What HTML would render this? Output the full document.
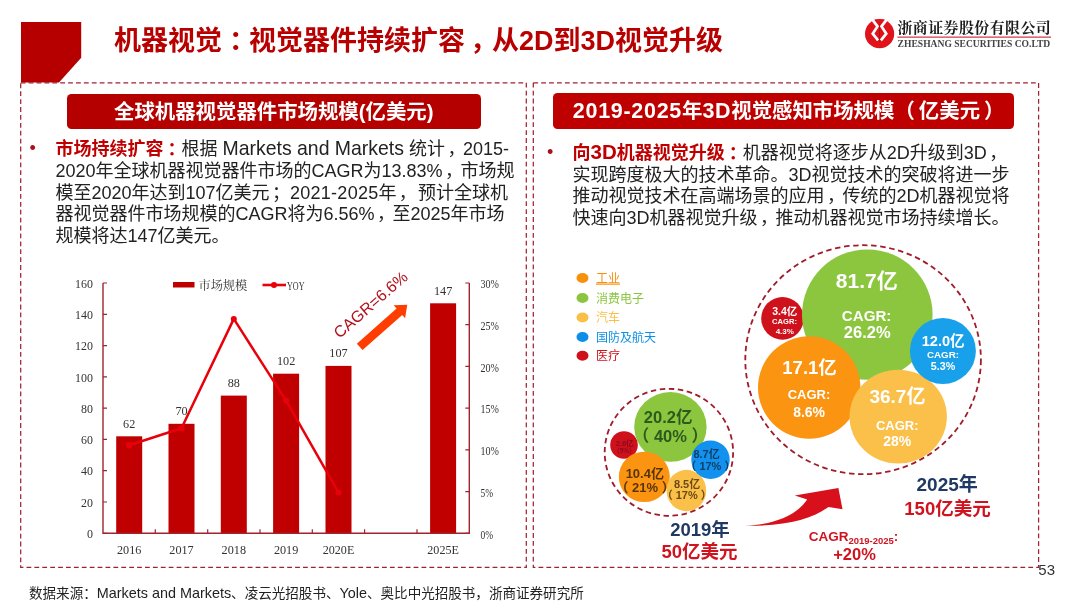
<!DOCTYPE html>
<html lang="zh-CN">
<head>
<meta charset="utf-8">
<title>机器视觉：视觉器件持续扩容，从2D到3D视觉升级</title>
<style>
*{margin:0;padding:0;box-sizing:border-box;}
html,body{width:1080px;height:608px;background:#fff;overflow:hidden;}
body{position:relative;font-family:"Liberation Sans","Noto Sans CJK SC",sans-serif;color:#222;}
.abs{position:absolute;white-space:nowrap;}
#title{left:114px;top:21px;font-size:27px;font-weight:700;color:#b80000;line-height:40px;letter-spacing:0px;}
.panel{position:absolute;border:0;}
.hbox{overflow:hidden;position:absolute;background:#bb0000;border-radius:4.5px;color:#fff;font-weight:700;font-size:20px;text-align:center;line-height:35px;height:36px;white-space:nowrap;}
.body{position:absolute;font-size:18px;line-height:22.4px;color:#222;white-space:nowrap;}
.body b{color:#c00000;font-weight:700;}
.bul{position:absolute;font-size:18px;color:#c00000;line-height:22px;}
#foot{left:29px;top:582.8px;font-size:13.55px;line-height:20px;color:#222;}
#pageno{left:1038.3px;top:558.5px;font-size:15px;line-height:22px;color:#333;font-family:"Liberation Sans",sans-serif;}
svg{position:absolute;left:0;top:0;}
svg text{font-family:"Liberation Sans","Noto Sans CJK SC",sans-serif;}
.ser{font-family:"Liberation Serif","Noto Serif CJK SC",serif !important;}
#foot .lat{font-size:14.4px;}
.hl{font-size:21.5px;letter-spacing:0.7px;line-height:10px;}
.bl{font-size:19.45px;line-height:10px;}
.pc{position:relative;left:7px;}
.pm{position:relative;left:5px;}
.q{position:relative;left:2.4px;}
.q2{position:relative;left:4px;}
</style>
</head>
<body>

<!-- shapes layer -->
<svg id="shapes" width="1080" height="608" viewBox="0 0 1080 608">
  <!-- corner mark -->
  <polygon points="21,22 81.2,22 81.2,57.8 59,82.4 21,82.4" fill="#b60000"/>
  <!-- dashed panels -->
  <rect x="20.7" y="82.8" width="505.6" height="484.6" fill="none" stroke="#a02234" stroke-width="1.25" stroke-dasharray="4.8 3.1"/>
  <rect x="533.3" y="82.8" width="505.3" height="484.6" fill="none" stroke="#a02234" stroke-width="1.25" stroke-dasharray="4.8 3.1"/>
<!-- bar chart -->
<g id="chart">
<rect x="116.2" y="436.3" width="26.0" height="97.0" fill="#c00000"/>
<rect x="168.5" y="423.8" width="26.0" height="109.5" fill="#c00000"/>
<rect x="220.8" y="395.6" width="26.0" height="137.7" fill="#c00000"/>
<rect x="273.1" y="373.7" width="26.0" height="159.6" fill="#c00000"/>
<rect x="325.5" y="365.9" width="26.0" height="167.4" fill="#c00000"/>
<rect x="430.1" y="303.3" width="26.0" height="230.0" fill="#c00000"/>
<path d="M103.0 283.0 V533.3 H469.3 V283.0" fill="none" stroke="#a0242e" stroke-width="1.4"/>
<path d="M103.0 533.3 h4 M103.0 502.0 h4 M103.0 470.7 h4 M103.0 439.4 h4 M103.0 408.1 h4 M103.0 376.9 h4 M103.0 345.6 h4 M103.0 314.3 h4 M103.0 283.0 h4 M469.3 533.3 h-4 M469.3 491.6 h-4 M469.3 449.9 h-4 M469.3 408.1 h-4 M469.3 366.4 h-4 M469.3 324.7 h-4 M469.3 283.0 h-4 M155.3 533.3 v-4 M207.7 533.3 v-4 M260.0 533.3 v-4 M312.3 533.3 v-4 M364.6 533.3 v-4 M417.0 533.3 v-4" fill="none" stroke="#a0242e" stroke-width="1.2"/>
<g class="ser" font-size="12.6" fill="#333">
<text class="ser" x="93" y="538.0" text-anchor="end" textLength="6.0" lengthAdjust="spacingAndGlyphs">0</text>
<text class="ser" x="93" y="506.7" text-anchor="end" textLength="11.9" lengthAdjust="spacingAndGlyphs">20</text>
<text class="ser" x="93" y="475.4" text-anchor="end" textLength="11.9" lengthAdjust="spacingAndGlyphs">40</text>
<text class="ser" x="93" y="444.1" text-anchor="end" textLength="11.9" lengthAdjust="spacingAndGlyphs">60</text>
<text class="ser" x="93" y="412.8" text-anchor="end" textLength="11.9" lengthAdjust="spacingAndGlyphs">80</text>
<text class="ser" x="93" y="381.6" text-anchor="end" textLength="17.9" lengthAdjust="spacingAndGlyphs">100</text>
<text class="ser" x="93" y="350.3" text-anchor="end" textLength="17.9" lengthAdjust="spacingAndGlyphs">120</text>
<text class="ser" x="93" y="319.0" text-anchor="end" textLength="17.9" lengthAdjust="spacingAndGlyphs">140</text>
<text class="ser" x="93" y="287.7" text-anchor="end" textLength="17.9" lengthAdjust="spacingAndGlyphs">160</text>
<text class="ser" x="480.5" y="538.5" textLength="12.6" lengthAdjust="spacingAndGlyphs">0%</text>
<text class="ser" x="480.5" y="496.8" textLength="12.6" lengthAdjust="spacingAndGlyphs">5%</text>
<text class="ser" x="480.5" y="455.1" textLength="18.5" lengthAdjust="spacingAndGlyphs">10%</text>
<text class="ser" x="480.5" y="413.3" textLength="18.5" lengthAdjust="spacingAndGlyphs">15%</text>
<text class="ser" x="480.5" y="371.6" textLength="18.5" lengthAdjust="spacingAndGlyphs">20%</text>
<text class="ser" x="480.5" y="329.9" textLength="18.5" lengthAdjust="spacingAndGlyphs">25%</text>
<text class="ser" x="480.5" y="288.2" textLength="18.5" lengthAdjust="spacingAndGlyphs">30%</text>
<text class="ser" x="129.2" y="553.6" text-anchor="middle" textLength="24.4" lengthAdjust="spacingAndGlyphs">2016</text>
<text class="ser" x="129.2" y="427.7" text-anchor="middle" textLength="12.2" lengthAdjust="spacingAndGlyphs">62</text>
<text class="ser" x="181.5" y="553.6" text-anchor="middle" textLength="24.4" lengthAdjust="spacingAndGlyphs">2017</text>
<text class="ser" x="181.5" y="415.2" text-anchor="middle" textLength="12.2" lengthAdjust="spacingAndGlyphs">70</text>
<text class="ser" x="233.8" y="553.6" text-anchor="middle" textLength="24.4" lengthAdjust="spacingAndGlyphs">2018</text>
<text class="ser" x="233.8" y="387.0" text-anchor="middle" textLength="12.2" lengthAdjust="spacingAndGlyphs">88</text>
<text class="ser" x="286.1" y="553.6" text-anchor="middle" textLength="24.4" lengthAdjust="spacingAndGlyphs">2019</text>
<text class="ser" x="286.1" y="365.1" text-anchor="middle" textLength="18.3" lengthAdjust="spacingAndGlyphs">102</text>
<text class="ser" x="338.5" y="553.6" text-anchor="middle" textLength="31.6" lengthAdjust="spacingAndGlyphs">2020E</text>
<text class="ser" x="338.5" y="357.3" text-anchor="middle" textLength="18.3" lengthAdjust="spacingAndGlyphs">107</text>
<text class="ser" x="443.1" y="553.6" text-anchor="middle" textLength="31.6" lengthAdjust="spacingAndGlyphs">2025E</text>
<text class="ser" x="443.1" y="294.7" text-anchor="middle" textLength="18.3" lengthAdjust="spacingAndGlyphs">147</text>
</g>
<polyline points="129.2,445.2 181.5,428.2 233.8,318.9 286.1,400.6 338.5,492.4" fill="none" stroke="#e8000b" stroke-width="2.5" stroke-linejoin="round"/>
<circle cx="129.2" cy="445.2" r="3.2" fill="#e8000b"/>
<circle cx="181.5" cy="428.2" r="3.2" fill="#e8000b"/>
<circle cx="233.8" cy="318.9" r="3" fill="#e8000b"/>
<circle cx="286.1" cy="400.6" r="3" fill="#e8000b"/>
<circle cx="338.5" cy="492.4" r="3" fill="#e8000b"/>
<rect x="173" y="282" width="21.5" height="5.5" fill="#c00000"/>
<text class="ser" x="198.5" y="289.5" font-size="12.2" fill="#333">市场规模</text>
<path d="M262.5 285 H286" stroke="#e8000b" stroke-width="2.6"/><circle cx="274" cy="285" r="3" fill="#e8000b"/>
<text class="ser" x="287" y="289.5" font-size="12.6" fill="#333" textLength="17.5" lengthAdjust="spacingAndGlyphs">YOY</text>
<text x="0" y="0" font-size="16" fill="#b3121d" transform="translate(339.5,339) rotate(-41)">CAGR=6.6%</text>
<polygon points="0,-4.3 53,-4.3 53,-8.6 63.5,0 53,8.6 53,4.3 0,4.3" fill="#ff3d00" transform="translate(359.7,346.9) rotate(-41.5)"/>
</g>
<!-- bubbles -->
<g id="bubbles" font-weight="700" text-anchor="middle">
<ellipse cx="863.1" cy="359.7" rx="117.8" ry="114.5" stroke="#a01c2b" stroke-width="1.8" stroke-dasharray="5.5 3.6" fill="none"/>
<circle cx="782.5" cy="318.4" r="21.3" fill="#cf111b"/>
<ellipse cx="867.3" cy="314.6" rx="65.3" ry="65.2" fill="#8cc63f"/>
<circle cx="809.2" cy="387.5" r="51.2" fill="#fb9410"/>
<ellipse cx="898.2" cy="416.6" rx="48.7" ry="46.9" fill="#fbc04a"/>
<circle cx="942.9" cy="351" r="33" fill="#18a1ea"/>
<text x="866.8" y="288.2" font-size="21" fill="#fff">81.7亿</text>
<text x="866.6" y="320.6" font-size="15.1" fill="#fff">CAGR:</text>
<text x="867.2" y="338.4" font-size="16.5" fill="#fff">26.2%</text>
<text x="809.6" y="373.6" font-size="18.5" fill="#fff">17.1亿</text>
<text x="809" y="398.9" font-size="13" fill="#fff">CAGR:</text>
<text x="809.1" y="417.3" font-size="14" fill="#fff">8.6%</text>
<text x="897.4" y="403.2" font-size="19" fill="#fff">36.7亿</text>
<text x="897.2" y="429.5" font-size="13" fill="#fff">CAGR:</text>
<text x="897.2" y="445.5" font-size="14" fill="#fff">28%</text>
<text x="943.2" y="346.1" font-size="14.6" fill="#fff">12.0亿</text>
<text x="943" y="357.7" font-size="9.8" fill="#fff">CAGR:</text>
<text x="943" y="370.4" font-size="10.7" fill="#fff">5.3%</text>
<text x="784.7" y="315.3" font-size="10.5" fill="#fff">3.4亿</text>
<text x="784.5" y="323.9" font-size="7.6" fill="#fff">CAGR:</text>
<text x="784.8" y="333.7" font-size="8" fill="#fff">4.3%</text>
<ellipse cx="668.9" cy="452.3" rx="64.2" ry="63.5" stroke="#a01c2b" stroke-width="1.8" stroke-dasharray="5.5 3.6" fill="none"/>
<circle cx="624" cy="445" r="13.8" fill="#cf111b"/>
<ellipse cx="670.4" cy="426.9" rx="36.2" ry="34.9" fill="#8cc63f"/>
<ellipse cx="644.3" cy="476.9" rx="25.5" ry="25.2" fill="#fb9410"/>
<ellipse cx="686.4" cy="490.5" rx="19.8" ry="20.7" fill="#fbc04a"/>
<circle cx="710.5" cy="459.7" r="19.2" fill="#1292ee"/>
<text x="668.1" y="422.7" font-size="16.5" fill="#2c5a1c">20.2亿</text>
<text x="670.4" y="441.8" font-size="16.5" fill="#2c5a1c">（ 40% ）</text>
<text x="644.8" y="477.9" font-size="13" fill="#5a3408">10.4亿</text>
<text x="645.1" y="491.7" font-size="13" fill="#5a3408">（ 21% ）</text>
<text x="687.1" y="487.9" font-size="11" fill="#6a4a10">8.5亿</text>
<text x="686.7" y="499.0" font-size="11" fill="#6a4a10">（ 17% ）</text>
<text x="706.6" y="458.0" font-size="11" fill="#0c3f66">8.7亿</text>
<text x="710.4" y="469.8" font-size="11" fill="#0c3f66">（ 17% ）</text>
<text x="624.6" y="445.5" font-size="7.5" fill="#8c0a1e">2.6亿</text>
<text x="624.4" y="452.6" font-size="6.5" fill="#8c0a1e">（5%）</text>
</g>
<g id="legend" font-size="12">
<ellipse cx="582.5" cy="278" rx="6" ry="5" fill="#f7900a"/>
<text x="596" y="282.5" fill="#f7900a" text-decoration="underline">工业</text>
<ellipse cx="582.5" cy="298" rx="6" ry="5" fill="#8bc53f"/>
<text x="596" y="302.5" fill="#8bc53f">消费电子</text>
<ellipse cx="582.5" cy="317.5" rx="6" ry="5" fill="#fbbf45"/>
<text x="596" y="322.0" fill="#fbbf45">汽车</text>
<ellipse cx="582.5" cy="337" rx="6" ry="5" fill="#0b8fe8"/>
<text x="596" y="341.5" fill="#0b8fe8">国防及航天</text>
<ellipse cx="582.5" cy="355.8" rx="6" ry="5" fill="#cf111b"/>
<text x="596" y="360.3" fill="#cf111b">医疗</text>
</g>
<g font-weight="700" text-anchor="middle">
<text x="700" y="535.5" font-size="18.5" fill="#1f3864">2019年</text>
<text x="699.5" y="558" font-size="18.5" fill="#cf1420">50亿美元</text>
<text x="947.2" y="490.7" font-size="19" fill="#1f3864">2025年</text>
<text x="947.5" y="514.5" font-size="18.5" fill="#cf1420">150亿美元</text>
<text x="853.5" y="540.5" font-size="13.5" fill="#cf1420">CAGR<tspan font-size="9.5" dy="3">2019-2025</tspan><tspan dy="-3">:</tspan></text>
<text x="854.5" y="559.6" font-size="16.5" fill="#cf1420">+20%</text>
</g>
<path d="M744.7 525.8 C775 524.5 797 515 807.2 499.5 L794.8 495.4 L838.4 488 L842.5 509.3 L828.5 506.9 C812 519 785 526.5 744.7 525.8 Z" fill="#d8101c"/>
<!-- logo -->
<g id="logo">
<circle cx="879.6" cy="33.7" r="14.6" fill="#e0121a"/>
<polygon points="874.4,19.5 884.6,19.5 879.5,25" fill="#e0121a"/>
<g fill="none" stroke="#fff" stroke-width="2.7" stroke-linejoin="miter">
<polyline points="871.4,18.4 877.5,26.4 872.7,33.7 878.1,40.3"/>
<polyline points="887.6,18.4 881.5,26.4 886.3,33.7 880.9,40.3"/>
</g>
<path d="M879.5 24.5 V42" stroke="#a80c12" stroke-width="0.8"/>
<text class="ser" x="897.4" y="33.2" font-size="15" font-weight="700" fill="#1a1a1a" textLength="153.4" lengthAdjust="spacing">浙商证券股份有限公司</text>
<path d="M897.5 37.1 H1051" stroke="#d23a48" stroke-width="1.1"/>
<text class="ser" x="897.6" y="46.6" font-size="10" font-weight="700" fill="#444" textLength="152.6" lengthAdjust="spacingAndGlyphs">ZHESHANG SECURITIES CO.LTD</text>
</g>
</svg>

<div id="title" class="abs">机器视觉<span class="pc">：</span>视觉器件持续扩容<span class="pm">，</span>从2D到3D视觉升级</div>

<div class="hbox" style="background:#b50000;left:66.8px;top:93.6px;width:414px;font-size:20.4px;line-height:36.8px;height:35.2px;">全球机器视觉器件市场规模(亿美元)</div>
<div class="hbox" style="background:#bf0000;left:553px;top:93.2px;width:461px;padding-left:10.4px;font-size:20.4px;line-height:37px;height:35.4px;"><span class="hl">2019-2025</span>年<span class="hl">3D</span>视觉感知市场规模（&#8201;亿美元&#8201;）</div>

<div class="bul" style="left:29.5px;top:137.3px;font-size:18px;color:#a8101c;">•</div>
<div class="body" style="left:55.5px;top:139.1px;line-height:21.7px;"><b>市场持续扩容<span class="q2">：</span></b>根据 <span class="bl">Markets and Markets</span> 统计<span class="q">，</span>2015-<br>2020年全球机器视觉器件市场的CAGR为13.83%<span class="q">，</span>市场规<br>模至2020年达到107亿美元<span class="q" style="letter-spacing:2.5px">；</span><span style="letter-spacing:0.25px">2021-2025</span>年<span class="q" style="letter-spacing:3.6px">，</span>预计全球机<br>器视觉器件市场规模的CAGR将为6.56%<span class="q">，</span>至2025年市场<br>规模将达147亿美元。</div>

<div class="bul" style="left:546.9px;top:140.7px;font-size:18px;color:#a8101c;">•</div>
<div class="body" style="left:572.5px;top:143.4px;line-height:21.5px;"><b>向<span style="font-size:20.5px;line-height:10px">3D</span>机器视觉升级<span class="q2">：</span></b>机器视觉将逐步从2D升级到3D<span class="q">，</span><br>实现跨度极大的技术革命。3D视觉技术的突破将进一步<br>推动视觉技术在高端场景的应用<span class="q">，</span>传统的2D机器视觉将<br>快速向3D机器视觉升级<span class="q">，</span>推动机器视觉市场持续增长。</div>

<div id="foot" class="abs">数据来源：<span class="lat">Markets and Markets</span>、凌云光招股书、<span class="lat">Yole</span>、奥比中光招股书，浙商证券研究所</div>
<div id="pageno" class="abs">53</div>

</body>
</html>
